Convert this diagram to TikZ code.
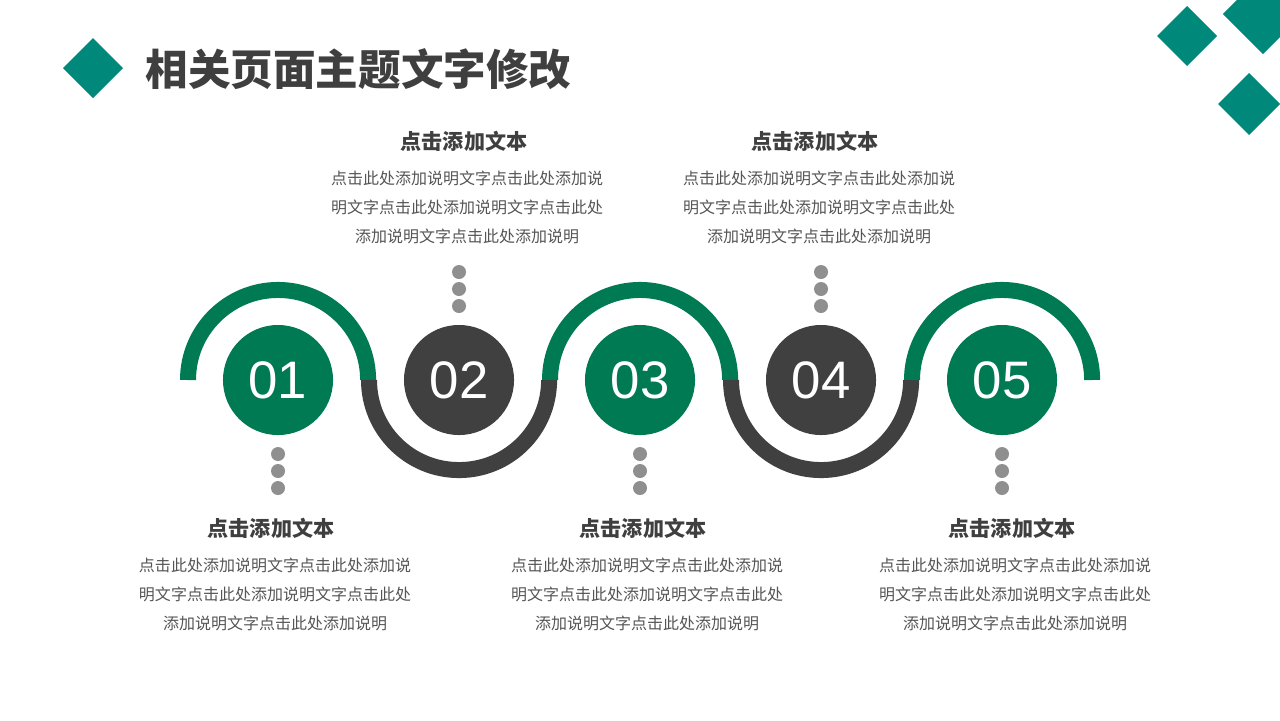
\documentclass[tikz,border=0pt]{standalone}
\usepackage{fontspec}
\setmainfont{Liberation Sans}
\newfontfamily\cjk{Noto Sans CJK SC}
\usetikzlibrary{calc}
\definecolor{teal1}{HTML}{00897B}
\definecolor{green1}{HTML}{007A53}
\definecolor{dark1}{HTML}{404040}
\definecolor{dot1}{HTML}{8F8F8F}
\definecolor{txt1}{HTML}{555555}
\definecolor{title1}{HTML}{3F3F3F}
\newcommand{\bodytext}{点击此处添加说明文字点击此处添加说\\明文字点击此处添加说明文字点击此处\\添加说明文字点击此处添加说明}
\begin{document}
\begin{tikzpicture}[x=0.01cm,y=0.01cm,
  diam/.style={fill=teal1,rotate=45,inner sep=0pt,minimum size=#1},
  numcirc/.style={circle,fill=#1,minimum size=1.1cm,inner sep=0pt,text=white,font=\fontsize{15}{15}\selectfont},
  wave/.style={line width=4.55pt,draw=#1},
  dotc/.style={circle,fill=dot1,inner sep=0pt,minimum size=0.14cm},
  head/.style={text=title1,font=\cjk\bfseries\fontsize{6}{7}\selectfont},
  body/.style={text=txt1,align=center,font=\cjk\fontsize{4.55}{8.25}\selectfont}]
\useasboundingbox (0,0) rectangle (1280,720);
\node[diam=0.424cm] (m0) at (93,652) {};
\node[diam=0.424cm] (m1) at (1187,684) {};
\node[diam=0.566cm] (m2) at (1263,706) {};
\node[diam=0.438cm] (m3) at (1249,616) {};
\node[anchor=west,inner sep=0pt,text=title1,font=\cjk\bfseries\fontsize{12.1}{12.1}\selectfont] (title) at (145,651) {相关页面主题文字修改};
\node[numcirc=green1] (c1) at (278,340) {01};
\node[numcirc=dark1] (c2) at (459,340) {02};
\node[numcirc=green1] (c3) at (640,340) {03};
\node[numcirc=dark1] (c4) at (821,340) {04};
\node[numcirc=green1] (c5) at (1002,340) {05};
\draw[wave=green1] ($(c1)+(-90,0)$) arc[start angle=180,end angle=0,radius=0.9cm];
\draw[wave=dark1] ($(c2)+(-90,0)$) arc[start angle=180,end angle=360,radius=0.9cm];
\draw[wave=green1] ($(c3)+(-90,0)$) arc[start angle=180,end angle=0,radius=0.9cm];
\draw[wave=dark1] ($(c4)+(-90,0)$) arc[start angle=180,end angle=360,radius=0.9cm];
\draw[wave=green1] ($(c5)+(-90,0)$) arc[start angle=180,end angle=0,radius=0.9cm];
\foreach \i/\s in {1/-1,3/-1,5/-1,2/1,4/1}
  \foreach \k/\o in {a/74,b/91,c/108}
    \node[dotc] (d\i\k) at ($(c\i)+(0,\s*\o)$) {};
\node[head] (h1) at (271,192) {点击添加文本};
\node[body] (t1) at (275,126) {\bodytext};
\node[head] (h2) at (464,579) {点击添加文本};
\node[body] (t2) at (467,513) {\bodytext};
\node[head] (h3) at (643,192) {点击添加文本};
\node[body] (t3) at (647,126) {\bodytext};
\node[head] (h4) at (815,579) {点击添加文本};
\node[body] (t4) at (819,513) {\bodytext};
\node[head] (h5) at (1012,192) {点击添加文本};
\node[body] (t5) at (1015,126) {\bodytext};
\end{tikzpicture}
\end{document}
